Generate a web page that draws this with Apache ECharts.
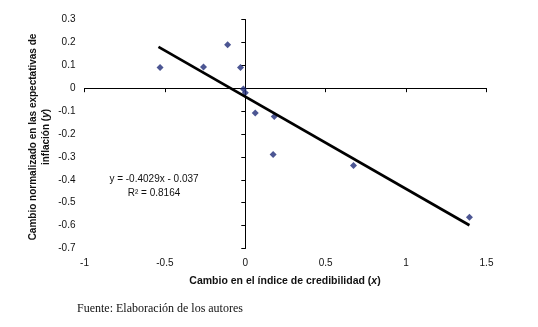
<!DOCTYPE html>
<html>
<head>
<meta charset="utf-8">
<script src="https://cdn.jsdelivr.net/npm/echarts@6/dist/echarts.min.js"></script>
<style>
html,body{margin:0;padding:0;background:#fff;}
#c{width:538px;height:327px;}
</style>
</head>
<body>
<div id="c"></div>
<script>
// Data
var xValues = [-0.53, -0.26, -0.11, -0.03, -0.012, 0.0, 0.062, 0.18, 0.173, 0.673, 1.394];
var yValues = [0.09, 0.093, 0.19, 0.09, -0.004, -0.02, -0.108, -0.124, -0.289, -0.338, -0.564];
var trendSlope = -0.4029;
var trendIntercept = -0.037;
var trendText = ["y = -0.4029x - 0.037", "R² = 0.8164"];
var xTitle = ["Cambio en el índice de credibilidad (", "x", ")"];
var yTitle = ["Cambio normalizado en las expectativas de", "inflación (", "y", ")"];
var source = "Fuente: Elaboración de los autores";

var points = xValues.map(function (x, i) { return [x, yValues[i]]; });
var xMin = Math.min.apply(null, xValues) - 0.01, xMax = Math.max.apply(null, xValues);
var trend = [[xMin, trendSlope * xMin + trendIntercept], [xMax, trendSlope * xMax + trendIntercept]];

var font = '"Liberation Sans", Arial, sans-serif';
var gridPos = { left: 84.5, right: 51.5, top: 19.5, bottom: 78.5 };
var boldRich = { b: { font: 'bold 10.5px ' + font, fill: '#111' }, i: { font: 'italic bold 10.5px ' + font, fill: '#111' } };
var boldRichY = { b: { font: 'bold 10px ' + font, fill: '#111' }, i: { font: 'italic bold 10px ' + font, fill: '#111' } };

var chart = echarts.init(document.getElementById('c'));
chart.setOption({
  backgroundColor: '#fff',
  animation: false,
  grid: [
    Object.assign({}, gridPos),
    Object.assign({}, gridPos)
  ],
  xAxis: [
    { type: 'value', gridIndex: 0, min: -1, max: 1.5, interval: 0.5,
      axisLine: { show: false }, axisTick: { show: false }, splitLine: { show: false },
      axisLabel: { color: '#111', fontFamily: font, fontSize: 10, margin: 10 } },
    { type: 'value', gridIndex: 1, min: -1, max: 1.5, interval: 0.5,
      axisLine: { show: true, onZero: true, lineStyle: { color: '#000', width: 1 } },
      axisTick: { show: true, length: 4, lineStyle: { color: '#000' } },
      splitLine: { show: false }, axisLabel: { show: false } }
  ],
  yAxis: [
    { type: 'value', gridIndex: 0, min: -0.7, max: 0.3, interval: 0.1,
      axisLine: { show: false }, axisTick: { show: false }, splitLine: { show: false },
      axisLabel: { color: '#111', fontFamily: font, fontSize: 10, margin: 9,
        formatter: function (v) { return Math.round(v * 10) / 10 + ''; } } },
    { type: 'value', gridIndex: 1, min: -0.7, max: 0.3, interval: 0.1,
      axisLine: { show: true, onZero: true, lineStyle: { color: '#000', width: 1 } },
      axisTick: { show: true, length: 4, lineStyle: { color: '#000' } },
      splitLine: { show: false }, axisLabel: { show: false } }
  ],
  series: [
    { type: 'scatter', xAxisIndex: 0, yAxisIndex: 0, data: points,
      symbol: 'diamond', symbolSize: 7, itemStyle: { color: '#1F2C78' }, z: 3 },
    { type: 'line', xAxisIndex: 0, yAxisIndex: 0, data: trend, symbol: 'none',
      lineStyle: { color: '#000', width: 2.7 }, z: 4 }
  ],
  graphic: [
    { type: 'text', x: 285, y: 281, style: {
      text: '{b|' + xTitle[0] + '}{i|' + xTitle[1] + '}{b|' + xTitle[2] + '}', rich: boldRich,
      textAlign: 'center', textVerticalAlign: 'middle' } },
    { type: 'text', x: 33, y: 137, rotation: Math.PI / 2, style: { text: '{b|' + yTitle[0] + '}', rich: boldRichY,
      textAlign: 'center', textVerticalAlign: 'middle' } },
    { type: 'text', x: 46, y: 137, rotation: Math.PI / 2, style: {
      text: '{b|' + yTitle[1] + '}{i|' + yTitle[2] + '}{b|' + yTitle[3] + '}', rich: boldRichY,
      textAlign: 'center', textVerticalAlign: 'middle' } },
    { type: 'text', x: 154, y: 179, style: { text: trendText[0], fill: '#111', font: '10px ' + font,
      textAlign: 'center', textVerticalAlign: 'middle' } },
    { type: 'text', x: 154, y: 193, style: { text: trendText[1], fill: '#111', font: '10px ' + font,
      textAlign: 'center', textVerticalAlign: 'middle' } },
    { type: 'text', x: 77, y: 309, style: { text: source, fill: '#111', font: '12px "Liberation Serif", "Times New Roman", serif',
      textAlign: 'left', textVerticalAlign: 'middle' } }
  ]
});
</script>
</body>
</html>
